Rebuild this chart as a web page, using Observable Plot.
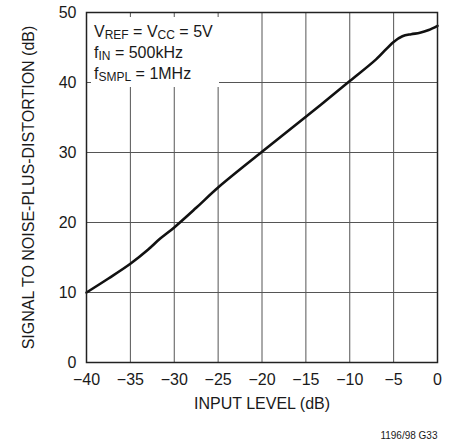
<!DOCTYPE html>
<html><head><meta charset="utf-8">
<script src="https://cdn.jsdelivr.net/npm/d3@7"></script>
<script src="https://cdn.jsdelivr.net/npm/@observablehq/plot@0.6"></script>
<style>body{margin:0;background:#fff} svg{display:block}</style>
</head><body><div id="chart"></div>
<script>
const inputLevel = [-40, -37.5, -35, -33, -31.6, -30, -27.5, -25, -20, -15, -10, -7, -5, -4, -3, -2, -1, 0];
const snr = [10.0, 12.0, 14.1, 16.1, 17.7, 19.3, 22.1, 25.0, 30.1, 35.1, 40.2, 43.3, 45.8, 46.6, 46.9, 47.1, 47.5, 48.1];
const xTicks = [-40, -35, -30, -25, -20, -15, -10, -5, 0];
const yTicks = [0, 10, 20, 30, 40, 50];
const xLabel = "INPUT LEVEL (dB)";
const yLabel = "SIGNAL TO NOISE-PLUS-DISTORTION (dB)";
const caption = "1196/98 G33";
const annotationLines = [
  [["V", 0], ["REF", 1], [" = V", 0], ["CC", 1], [" = 5V", 0]],
  [["f", 0], ["IN", 1], [" = 500kHz", 0]],
  [["f", 0], ["SMPL", 1], [" = 1MHz", 0]]
];

const data = inputLevel.map((x, i) => ({x, y: snr[i]}));
const font = "'Liberation Sans Narrow', 'Arial Narrow', 'Liberation Sans', Arial, sans-serif";
const fmt = d => d < 0 ? "\u2212" + Math.abs(d) : String(d);

const chart = Plot.plot({
  width: 456, height: 446,
  marginLeft: 86, marginRight: 19, marginTop: 12, marginBottom: 84,
  style: {fontFamily: font, fontSize: "16px", color: "#1a1a1a", background: "#fff", overflow: "visible"},
  x: {domain: [-40, 0], label: null},
  y: {domain: [0, 50], label: null},
  marks: [
    Plot.gridX(xTicks, {stroke: "#555", strokeOpacity: 1, strokeWidth: 1}),
    Plot.gridY(yTicks, {stroke: "#555", strokeOpacity: 1, strokeWidth: 1}),
    Plot.line(data, {x: "x", y: "y", curve: "catmull-rom", stroke: "#111", strokeWidth: 2.6}),
    Plot.frame({stroke: "#222", strokeWidth: 1.5}),
    Plot.axisX(xTicks, {tickSize: 0, tickPadding: 11, tickFormat: fmt, fontSize: 16}),
    Plot.axisY(yTicks, {tickSize: 0, tickPadding: 10, fontSize: 16}),
    Plot.text([xLabel], {frameAnchor: "bottom", dy: 46, fontSize: 16}),
    Plot.text([yLabel], {frameAnchor: "left", dx: -58, rotate: -90, textAnchor: "middle", fontSize: 16}),
    Plot.text([caption], {frameAnchor: "bottom-right", dy: 76, fontSize: 10, textAnchor: "end"})
  ]
});
document.getElementById("chart").appendChild(chart);

// annotation box (white background) with subscripted text
const frameEl = chart.querySelector('[aria-label="frame"]');
const frameLeft = 86, frameTop = 12;
const g = d3.create("svg:g");
g.append("rect").attr("fill", "#fff")
  .attr("x", frameLeft + 5).attr("y", frameTop + 5).attr("width", 128).attr("height", 70);
const tg = g.append("g").attr("font-family", font).attr("fill", "#1a1a1a").attr("text-anchor", "start");
annotationLines.forEach((parts, i) => {
  const t = tg.append("text").attr("x", frameLeft + 8).attr("y", frameTop + 25 + i * 21)
    .attr("font-size", 16).attr("text-anchor", "start");
  let prevSub = false;
  parts.forEach(([s, sub]) => {
    const sp = t.append("tspan").attr("font-size", sub ? 12 : 16).text(s);
    if (sub && !prevSub) sp.attr("dy", 2);
    else if (!sub && prevSub) sp.attr("dy", -2);
    prevSub = !!sub;
  });
});
if (frameEl) chart.insertBefore(g.node(), frameEl); else chart.appendChild(g.node());
// condense the annotation text horizontally to the width of the reference lettering
const firstLine = tg.select("text").node();
const w = firstLine.getBBox().width;
const s = Math.min(1, 120 / w);
const x0 = frameLeft + 8;
tg.attr("transform", `translate(${x0},0) scale(${s},1) translate(${-x0},0)`);
</script>
</body></html>
